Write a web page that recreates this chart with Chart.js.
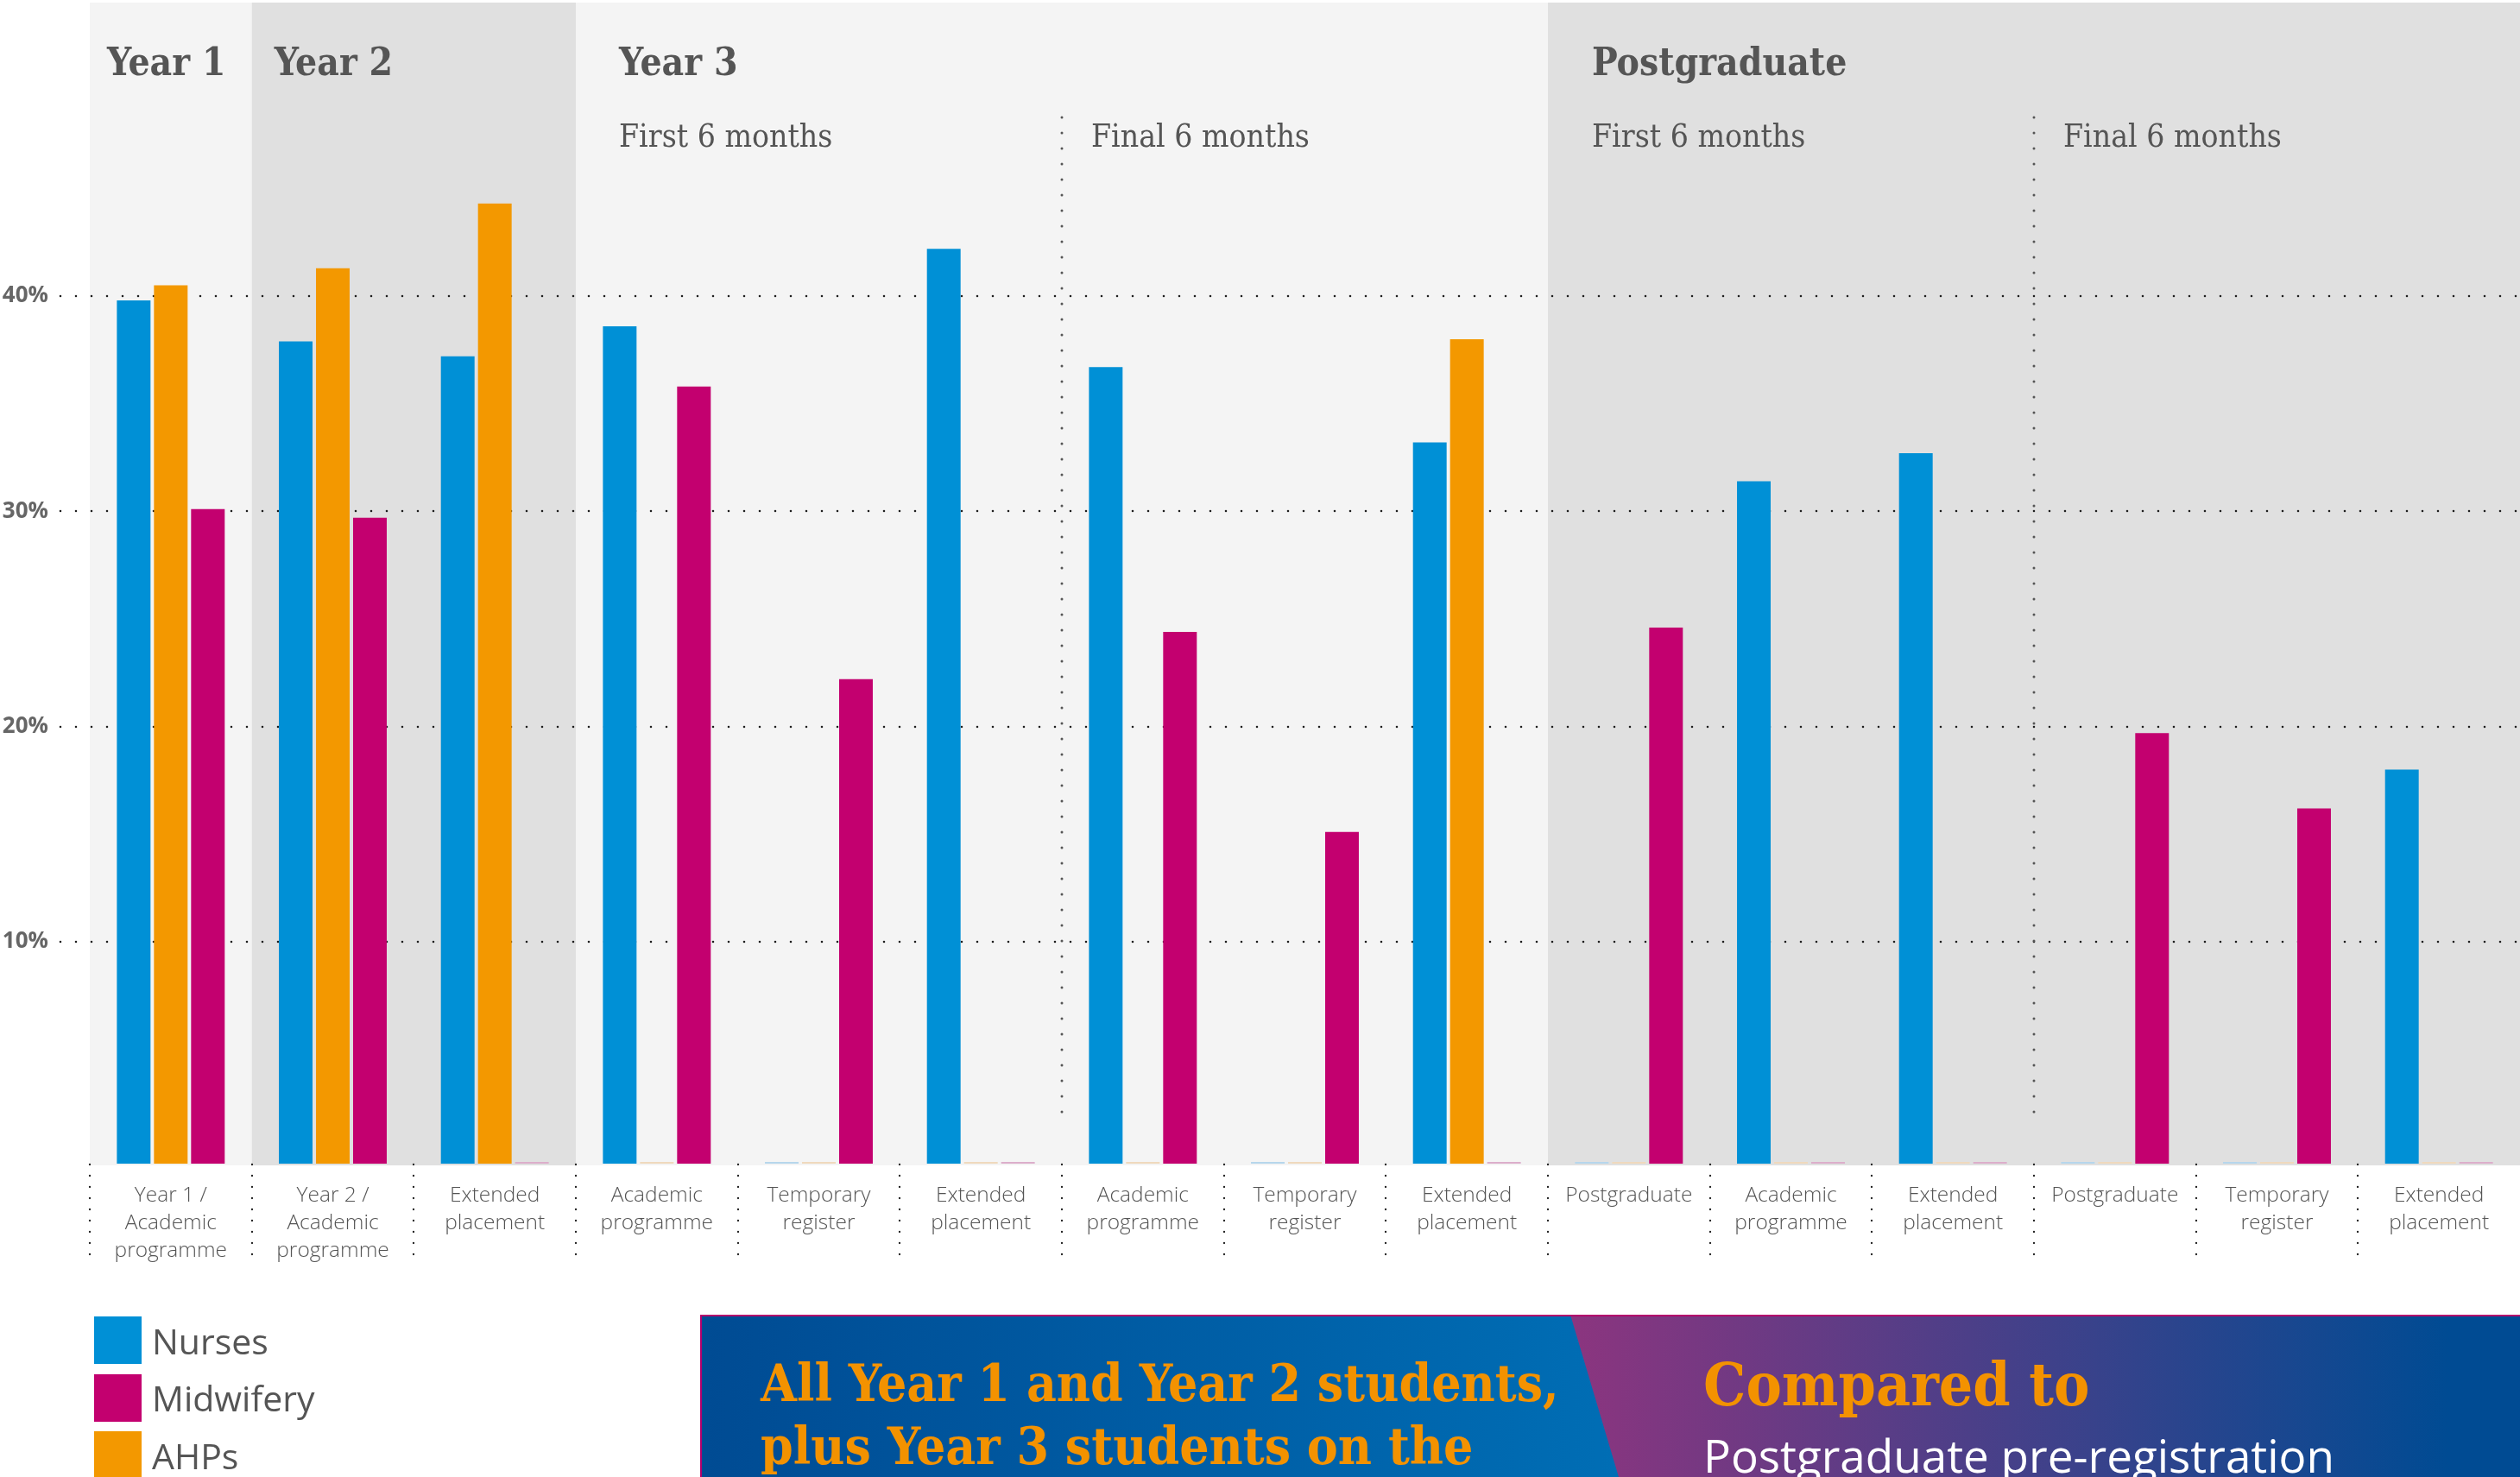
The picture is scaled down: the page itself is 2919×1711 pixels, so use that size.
<!DOCTYPE html>
<html>
<head>
<meta charset="utf-8">
<script src="https://cdn.jsdelivr.net/npm/chart.js@4.4.0/dist/chart.umd.min.js"></script>
<style>
  html, body { margin: 0; padding: 0; background: #fff; }
  #wrap { position: relative; width: 2919px; height: 1711px; overflow: hidden; }
  #chart { position: absolute; left: 0; top: 0; }
  #legend { position: absolute; left: 109px; top: 1525px; font-family: 'Open Sans', sans-serif; font-size: 41px; color: #555; }
  #legend .item { display: flex; align-items: center; height: 55px; margin-bottom: 11.5px; }
  #legend .sw { width: 55px; height: 55px; margin-right: 12px; flex: none; }
  #banner { position: absolute; left: 811px; top: 1523px; width: 2108px; height: 188px; }
  #banner .panel { position: absolute; left: 0; top: 0; width: 100%; height: 100%; }
  #banner .p-right { background: linear-gradient(to right, #8b357f 0%, #8b357f 48%, #004b93 96%, #004b93 100%); border-top: 2px solid #b4006c; box-sizing: border-box; }
  #banner .p-left { background: linear-gradient(to right, #004b93 0%, #0090d6 100%); clip-path: polygon(0 0, 1008px 0, 1064px 100%, 0 100%); border-top: 2px solid #b4006c; border-left: 2px solid #b4006c; box-sizing: border-box; }
  #banner .lead { position: absolute; font-family: 'DejaVu Serif Condensed', 'DejaVu Serif', serif; font-weight: bold; color: #f39200; font-size: 60px; line-height: 73px; white-space: nowrap; }
  #banner .plain { position: absolute; font-family: 'Open Sans', sans-serif; color: #fff; font-size: 53px; line-height: 66px; white-space: nowrap; }
</style>
</head>
<body>
<div id="wrap">
  <canvas id="chart" width="2919" height="1711"></canvas>
  <div id="legend"></div>
  <div id="banner">
    <div class="panel p-right"></div>
    <div class="panel p-left"></div>
    <div class="lead" style="left:70px; top:43px;">All Year 1 and Year 2 students,<br>plus Year 3 students on the</div>
    <div class="lead" style="left:1162px; top:44px; font-size:69px;">Compared to</div>
    <div class="plain" style="left:1162px; top:130px;">Postgraduate pre-registration</div>
  </div>
</div>
<script>
// Categories along the x axis (stage / route), one group of three bars each
const categories = [
  ['Year 1 /', 'Academic', 'programme'],
  ['Year 2 /', 'Academic', 'programme'],
  ['Extended', 'placement'],
  ['Academic', 'programme'],
  ['Temporary', 'register'],
  ['Extended', 'placement'],
  ['Academic', 'programme'],
  ['Temporary', 'register'],
  ['Extended', 'placement'],
  'Postgraduate',
  ['Academic', 'programme'],
  ['Extended', 'placement'],
  'Postgraduate',
  ['Temporary', 'register'],
  ['Extended', 'placement']
];

// Percentages per staff group (0 = no respondents in that group)
const nurses    = [39.8, 37.9, 37.2, 38.6, 0, 42.2, 36.7, 0, 33.2, 0, 31.4, 32.7, 0, 0, 18.0];
const ahps      = [40.5, 41.3, 44.3, 0, 0, 0, 0, 0, 38.0, 0, 0, 0, 0, 0, 0];
const midwifery = [30.1, 29.7, 0, 35.8, 22.2, 0, 24.4, 15.1, 0, 24.6, 0, 0, 19.7, 16.2, 0];

const yTicks = [10, 20, 30, 40];

// Group headings across the top and the sub-periods inside them
const groupTitles  = ['Year 1', 'Year 2', 'Year 3', 'Postgraduate'];
const groupStarts  = [0, 1, 3, 9];
const groupEnds    = [0, 2, 8, 14];
const periodTitles = ['First 6 months', 'Final 6 months', 'First 6 months', 'Final 6 months'];
const periodStarts = [3, 6, 9, 12];
const periodDividers = [6, 12];

const legendOrder = ['Nurses', 'Midwifery', 'AHPs'];

const palette = {
  Nurses:    { solid: '#0090d6', faint: '#b6d6ec' },
  AHPs:      { solid: '#f39800', faint: '#efd9bd' },
  Midwifery: { solid: '#c3006f', faint: '#dcaecb' }
};

function makeSet(label, values) {
  return {
    label: label,
    data: values,
    base: -0.31,
    backgroundColor: ctx => (ctx.raw === 0 ? 'rgba(0,0,0,0)' : palette[label].solid),
    borderWidth: 0,
    categoryPercentage: 0.687,
    barPercentage: 0.907
  };
}

// Left edge (px) of a category slot on the x scale
function slotEdge(xs, i) {
  return xs.left + i * (xs.right - xs.left) / xs.ticks.length;
}

function dottedLine(ctx, x1, y1, x2, y2, gap, width, color) {
  ctx.save();
  ctx.strokeStyle = color;
  ctx.lineWidth = width;
  ctx.lineCap = 'round';
  ctx.setLineDash([0, gap]);
  ctx.beginPath();
  ctx.moveTo(x1, y1);
  ctx.lineTo(x2, y2);
  ctx.stroke();
  ctx.restore();
}

const bandsPlugin = {
  id: 'bands',
  beforeDatasetsDraw(chart) {
    const { ctx, chartArea, scales } = chart;
    const xs = scales.x, ys = scales.y;
    // shaded columns for each year group
    groupStarts.forEach((s, k) => {
      const x1 = slotEdge(xs, s);
      const x2 = slotEdge(xs, groupEnds[k] + 1);
      ctx.fillStyle = k % 2 === 0 ? '#f4f4f4' : '#e0e0e0';
      ctx.fillRect(x1, chartArea.top, x2 - x1, chartArea.bottom + 2 - chartArea.top);
    });
    // dotted value gridlines
    yTicks.forEach(v => {
      const y = Math.round(ys.getPixelForValue(v));
      dottedLine(ctx, 70, y, chartArea.right, y, 18, 2.6, '#1e1e1e');
    });
    // dotted dividers between first and final six months
    periodDividers.forEach(i => {
      const x = Math.round(slotEdge(xs, i));
      dottedLine(ctx, x, 136, x, chartArea.bottom - 42, 18, 3, '#555');
    });
    // headings
    ctx.save();
    ctx.fillStyle = '#555';
    ctx.textBaseline = 'alphabetic';
    const headOffsets = [20, 26, 50, 51];
    ctx.font = "bold 44px 'DejaVu Serif Condensed', 'DejaVu Serif', serif";
    groupTitles.forEach((t, k) => {
      ctx.fillText(t, slotEdge(xs, groupStarts[k]) + headOffsets[k], 87);
    });
    const subOffsets = [50, 34, 51, 34];
    ctx.font = "37px 'DejaVu Serif Condensed', 'DejaVu Serif', serif";
    periodTitles.forEach((t, k) => {
      ctx.fillText(t, slotEdge(xs, periodStarts[k]) + subOffsets[k], 170);
    });
    ctx.restore();
  },
  afterDatasetsDraw(chart) {
    const { ctx, chartArea } = chart;
    // thin pale marks where a group has no value
    chart.data.datasets.forEach((ds, di) => {
      const meta = chart.getDatasetMeta(di);
      meta.data.forEach((bar, i) => {
        if (ds.data[i] === 0) {
          ctx.fillStyle = palette[ds.label].faint;
          ctx.fillRect(bar.x - bar.width / 2, chartArea.bottom - 2, bar.width, 2);
        }
      });
    });
  },
  afterDraw(chart) {
    const { chartArea, scales, ctx } = chart;
    const xs = scales.x;
    // dotted separators between the category labels
    for (let i = 0; i < xs.ticks.length; i++) {
      const x = Math.round(slotEdge(xs, i));
      dottedLine(ctx, x, chartArea.bottom + 1, x, chartArea.bottom + 115, 13, 2.3, '#1e1e1e');
    }
  }
};

const chart = new Chart(document.getElementById('chart'), {
  type: 'bar',
  data: {
    labels: categories,
    datasets: [makeSet('Nurses', nurses), makeSet('AHPs', ahps), makeSet('Midwifery', midwifery)]
  },
  options: {
    responsive: false,
    devicePixelRatio: 1,
    animation: false,
    layout: { padding: { top: 3, left: 0, right: 0, bottom: 0 } },
    plugins: { legend: { display: false }, tooltip: { enabled: false } },
    scales: {
      x: {
        offset: true,
        grid: { display: false, drawTicks: false },
        border: { display: false },
        ticks: {
          autoSkip: false,
          maxRotation: 0,
          padding: 21,
          color: '#555',
          font: { family: "'Open Sans', sans-serif", size: 24.5, weight: 300, lineHeight: 32 / 24.5 }
        },
        afterFit(scale) {
          scale.height = 1711 - 1348;
          scale.paddingLeft = 0;
          scale.paddingRight = 0;
        }
      },
      y: {
        min: -0.31,
        max: 53.64,
        grid: { display: false, drawTicks: false },
        border: { display: false },
        afterBuildTicks(scale) { scale.ticks = yTicks.map(v => ({ value: v })); },
        ticks: {
          padding: 48,
          color: '#666',
          font: { family: "'Open Sans', sans-serif", size: 26, weight: 'bold' },
          callback: v => v + '%'
        },
        afterFit(scale) {
          scale.width = 104;
          scale.paddingTop = 0;
          scale.paddingBottom = 0;
        }
      }
    }
  },
  plugins: [bandsPlugin]
});

// Legend built from the chart's own datasets
const legendBox = document.getElementById('legend');
legendOrder.forEach(name => {
  const ds = chart.data.datasets.find(d => d.label === name);
  const row = document.createElement('div');
  row.className = 'item';
  const sw = document.createElement('div');
  sw.className = 'sw';
  sw.style.background = palette[ds.label].solid;
  const tx = document.createElement('span');
  tx.textContent = ds.label;
  row.appendChild(sw);
  row.appendChild(tx);
  legendBox.appendChild(row);
});
</script>
</body>
</html>
